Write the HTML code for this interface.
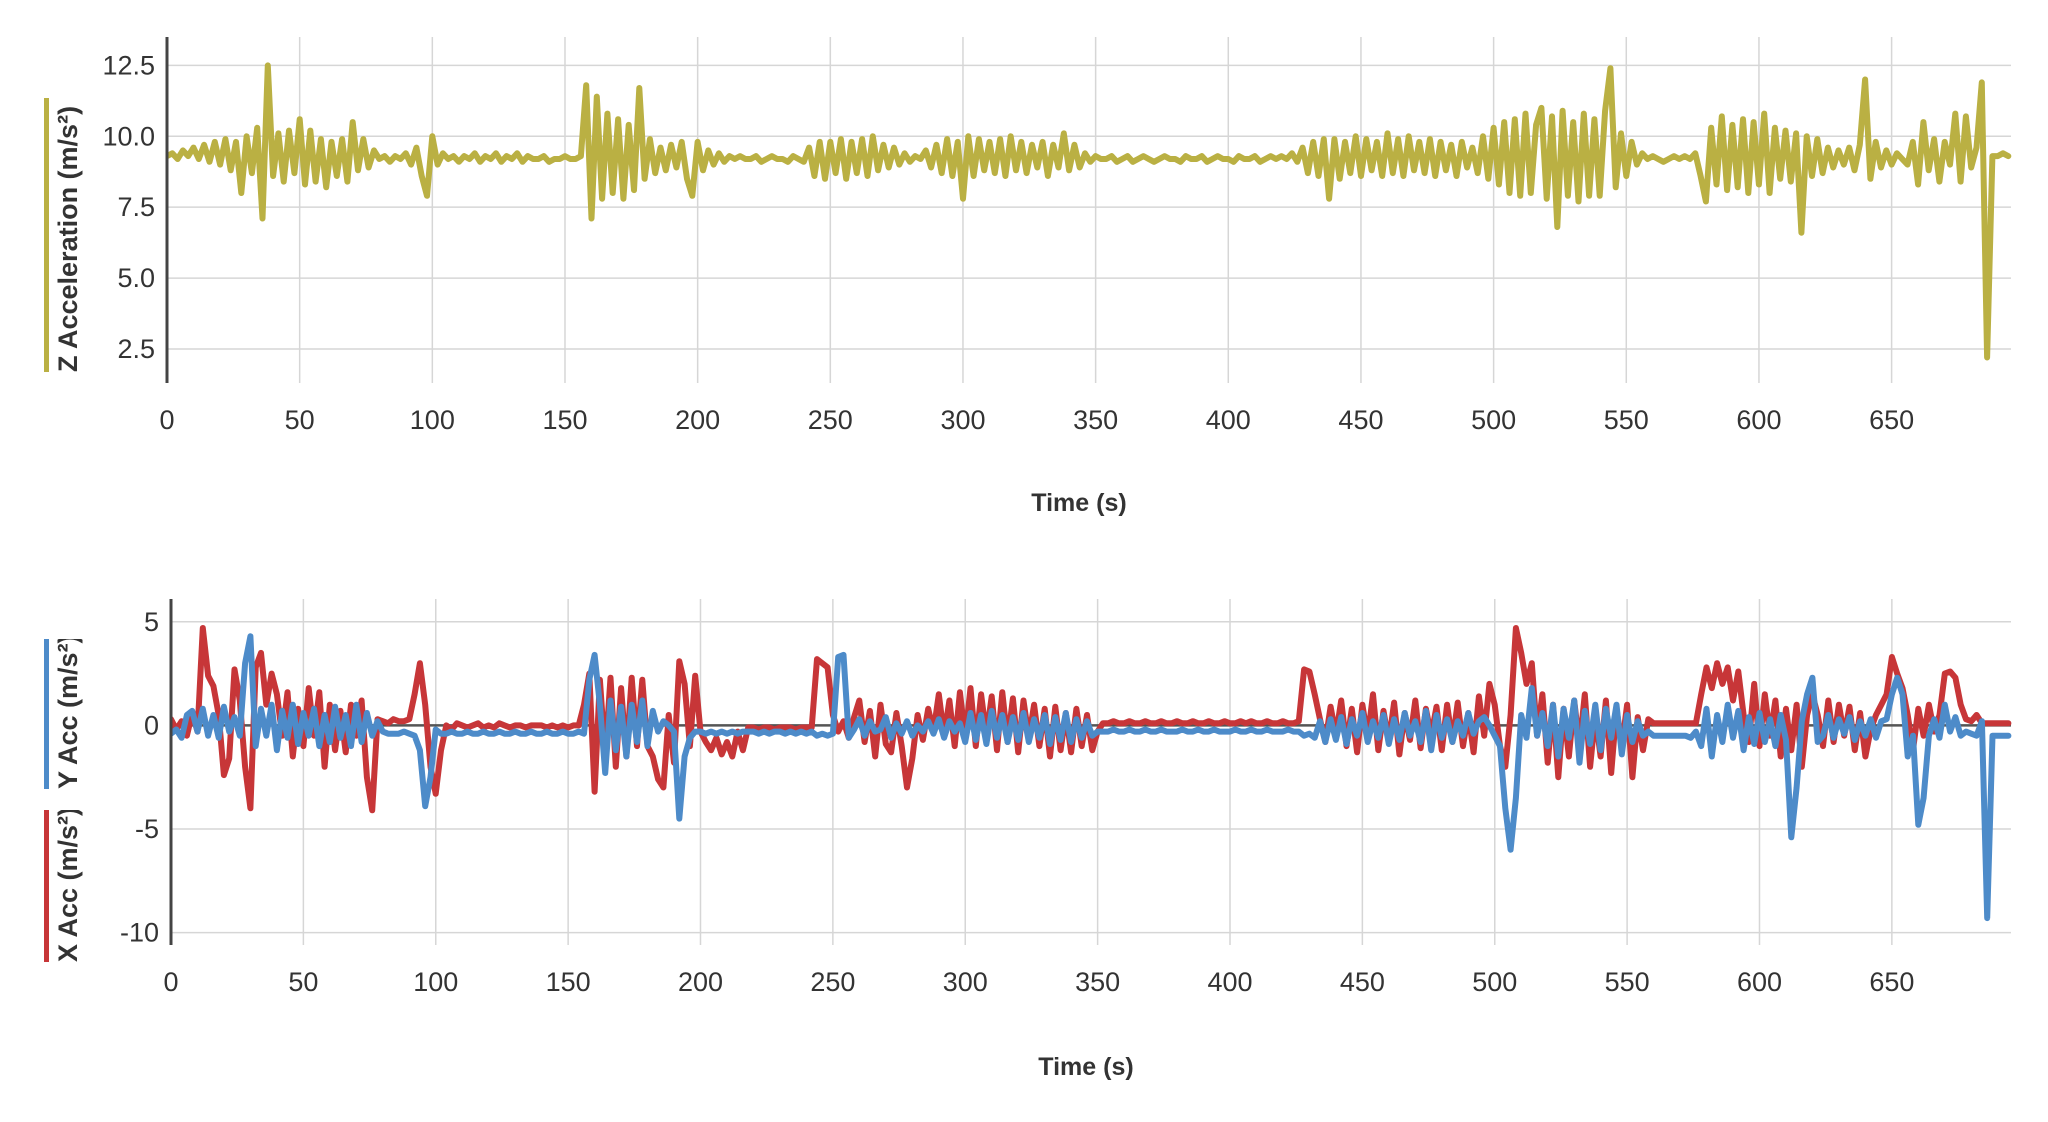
<!DOCTYPE html>
<html><head><meta charset="utf-8"><style>
html,body{margin:0;padding:0;background:#fff;width:2048px;height:1122px;overflow:hidden}
svg{display:block;font-family:"Liberation Sans",sans-serif}
</style></head><body>
<svg id="c" width="2048" height="1122"></svg>
<script>
const xTicks=[0,50,100,150,200,250,300,350,400,450,500,550,600,650];
const zTicks=[2.5,5.0,7.5,10.0,12.5];
const zTickLabels=["2.5","5.0","7.5","10.0","12.5"];
const xyTicks=[-10,-5,0,5];
const xyTickLabels=["-10","-5","0","5"];
const sampleStep=2;
const zAcc=[
9.3,9.4,9.2,9.5,9.3,9.6,9.2,9.7,9.1,9.8,
9.0,9.9,8.8,9.8,8.0,10.0,8.7,10.3,7.1,12.5,
8.6,10.1,8.4,10.2,8.7,10.6,8.3,10.2,8.4,9.9,
8.2,9.8,8.6,9.9,8.4,10.5,8.8,9.9,8.9,9.5,
9.2,9.3,9.1,9.3,9.2,9.4,9.0,9.6,8.6,7.9,
10.0,9.0,9.4,9.2,9.3,9.1,9.3,9.2,9.4,9.1,
9.3,9.2,9.4,9.1,9.3,9.2,9.4,9.1,9.3,9.2,
9.2,9.3,9.1,9.2,9.2,9.3,9.2,9.2,9.3,11.8,
7.1,11.4,7.8,10.8,8.0,10.6,7.8,10.4,8.1,11.7,
8.5,9.9,8.7,9.6,8.8,9.7,8.9,9.8,8.5,7.9,
9.8,8.8,9.5,9.0,9.4,9.1,9.3,9.2,9.3,9.2,
9.2,9.3,9.1,9.2,9.3,9.2,9.2,9.1,9.3,9.2,
9.1,9.6,8.6,9.8,8.5,9.8,8.7,9.9,8.5,9.8,
8.7,9.9,8.6,10.0,8.8,9.7,8.9,9.6,9.0,9.4,
9.1,9.3,9.2,9.5,8.9,9.7,8.7,9.9,8.6,9.8,
7.8,10.0,8.6,9.9,8.8,9.8,8.7,9.9,8.6,10.0,
8.8,9.8,8.7,9.7,8.9,9.8,8.6,9.7,8.9,10.1,
8.8,9.7,8.9,9.4,9.1,9.3,9.2,9.2,9.3,9.1,
9.2,9.3,9.1,9.2,9.3,9.2,9.1,9.2,9.3,9.2,
9.2,9.1,9.3,9.2,9.2,9.3,9.1,9.2,9.3,9.2,
9.2,9.1,9.3,9.2,9.2,9.3,9.1,9.2,9.3,9.2,
9.3,9.2,9.4,9.1,9.6,8.7,9.8,8.6,9.9,7.8,
9.9,8.5,9.8,8.7,10.0,8.6,9.9,8.8,9.8,8.6,
10.1,8.7,9.9,8.6,10.0,8.8,9.8,8.7,9.9,8.6,
9.8,8.8,9.7,8.6,9.8,8.9,9.6,8.7,10.0,8.5,
10.3,8.3,10.5,8.0,10.6,7.9,10.8,8.0,10.4,11.0,
7.8,10.7,6.8,10.9,7.9,10.5,7.7,10.8,7.9,10.6,
7.9,10.9,12.4,8.2,10.1,8.6,9.8,9.0,9.4,9.2,
9.3,9.2,9.1,9.2,9.3,9.2,9.3,9.2,9.4,8.6,
7.7,10.3,8.3,10.7,8.1,10.4,8.2,10.6,8.0,10.5,
8.3,10.8,8.0,10.3,8.5,10.2,8.4,10.1,6.6,10.0,
8.6,9.9,8.7,9.6,8.9,9.5,9.0,9.6,8.8,9.7,
12.0,8.5,9.8,8.9,9.5,9.0,9.4,9.2,9.0,9.8,
8.3,10.5,8.8,9.9,8.4,9.8,9.0,10.8,8.4,10.7,
8.9,9.6,11.9,2.2,9.3,9.3,9.4,9.3];
const xAcc=[
0.3,-0.2,0.2,-0.5,0.6,-0.3,4.7,2.4,1.9,0.5,
-2.4,-1.6,2.7,1.2,-2.0,-4.0,2.8,3.5,1.0,2.5,
1.5,-0.5,1.6,-1.5,0.8,-1.0,1.8,-0.5,1.6,-2.0,
1.0,-1.2,0.7,-1.3,1.0,-0.5,1.2,-2.5,-4.1,0.3,
0.2,0.1,0.3,0.2,0.2,0.3,1.5,3.0,1.0,-2.0,
-3.3,-1.2,0.0,-0.2,0.1,0.0,-0.1,0.0,0.1,-0.1,
0.0,-0.1,0.1,0.0,-0.1,0.0,0.0,-0.1,0.0,0.0,
0.0,-0.1,0.0,-0.1,0.0,-0.1,0.0,0.0,1.0,2.5,
-3.2,2.2,-1.5,2.3,-2.0,1.8,-1.5,2.3,-1.0,2.2,
-1.0,-1.5,-2.6,-3.0,0.5,-1.8,3.1,2.0,-1.0,2.4,
-0.3,-0.8,-1.2,-0.6,-1.4,-0.8,-1.5,-0.3,-1.2,-0.1,
-0.1,-0.2,-0.1,-0.1,-0.2,-0.1,-0.1,-0.1,-0.2,-0.1,
-0.1,-0.1,3.2,3.0,2.8,0.5,-0.3,0.2,-0.6,0.4,
1.2,-0.8,0.7,-1.5,1.0,-0.9,-1.3,0.6,-1.0,-3.0,
-1.6,0.5,-0.7,0.8,-0.3,1.5,-0.5,1.2,-1.0,1.6,
-0.6,1.8,-1.0,1.5,-0.5,1.4,-1.2,1.6,-0.8,1.3,
-1.3,1.2,-0.6,1.0,-1.0,0.8,-1.5,0.9,-1.2,0.6,
-1.3,0.8,-1.0,0.5,-1.2,-0.3,0.1,0.1,0.2,0.1,
0.1,0.2,0.1,0.1,0.2,0.1,0.1,0.2,0.1,0.1,
0.2,0.1,0.1,0.2,0.1,0.1,0.2,0.1,0.1,0.2,
0.1,0.1,0.2,0.1,0.2,0.1,0.1,0.2,0.1,0.1,
0.2,0.1,0.1,0.2,2.7,2.6,1.5,0.3,-0.8,0.9,
-0.5,1.2,-1.0,0.8,-1.3,1.0,-0.6,1.5,-1.2,0.7,
-0.8,1.1,-1.4,0.6,-0.7,1.2,-1.1,0.8,-0.5,0.9,
-1.2,1.0,-0.8,1.1,-1.0,0.6,-1.3,1.4,-0.5,2.0,
1.0,-1.0,-2.0,0.5,4.7,3.5,2.0,3.0,-0.5,1.5,
-1.8,1.0,-2.5,0.8,-1.5,1.2,-1.0,1.5,-2.0,0.5,
-1.5,1.2,-2.3,0.8,-1.0,1.0,-2.5,0.4,-1.2,0.3,
0.1,0.1,0.1,0.1,0.1,0.1,0.1,0.1,0.1,1.5,
2.8,1.8,3.0,2.0,2.8,1.2,2.6,0.5,-0.8,2.0,
-1.0,1.5,-0.5,1.2,-1.5,0.8,-1.2,1.0,-2.0,0.5,
1.5,0.5,-1.0,1.2,-0.8,1.0,-0.5,0.9,-1.2,0.6,
-1.5,-0.2,0.5,1.0,1.5,3.3,2.5,1.8,0.5,-1.2,
0.8,-0.5,1.0,-0.3,0.5,2.5,2.6,2.3,1.0,0.3,
0.2,0.5,0.1,0.1,0.1,0.1,0.1,0.1];
const yAcc=[
-0.4,-0.2,-0.6,0.5,0.7,-0.3,0.8,-0.5,0.5,-0.6,
0.9,-0.3,0.4,-0.5,3.0,4.3,-1.0,0.8,-0.5,1.0,
-1.2,0.7,-0.6,1.0,-0.9,0.6,-0.5,0.8,-1.0,0.5,
-0.8,0.9,-0.6,0.5,-1.0,1.0,-0.8,0.6,-0.5,0.2,
-0.3,-0.4,-0.4,-0.4,-0.3,-0.4,-0.5,-1.2,-3.9,-2.5,
-0.2,-0.4,-0.4,-0.3,-0.4,-0.4,-0.3,-0.4,-0.4,-0.3,
-0.4,-0.4,-0.3,-0.4,-0.4,-0.3,-0.4,-0.4,-0.3,-0.4,
-0.4,-0.3,-0.4,-0.4,-0.3,-0.4,-0.4,-0.3,-0.4,2.2,
3.4,1.0,-2.3,1.2,-1.2,0.9,-1.5,1.0,-0.8,1.2,
-1.0,0.7,-0.3,0.2,0.0,-0.3,-4.5,-1.5,-0.6,-0.3,
-0.3,-0.4,-0.3,-0.4,-0.3,-0.4,-0.3,-0.4,-0.3,-0.3,
-0.3,-0.4,-0.3,-0.4,-0.3,-0.3,-0.4,-0.3,-0.4,-0.3,
-0.4,-0.3,-0.5,-0.4,-0.5,-0.4,3.3,3.4,-0.6,-0.2,
0.3,-0.5,0.2,-0.3,-0.2,0.4,-0.6,0.1,-0.4,0.2,
-0.5,0.0,-0.3,0.2,-0.4,0.3,-0.6,0.2,-0.3,0.1,
-0.8,0.6,-0.7,0.5,-0.9,0.7,-0.6,0.5,-0.8,0.4,
-0.7,0.6,-0.8,0.3,-0.6,0.5,-0.9,0.4,-0.7,0.6,
-0.8,0.3,-0.6,0.2,-0.5,-0.3,-0.3,-0.3,-0.2,-0.3,
-0.3,-0.2,-0.3,-0.3,-0.2,-0.3,-0.3,-0.2,-0.3,-0.3,
-0.3,-0.2,-0.3,-0.3,-0.2,-0.3,-0.3,-0.2,-0.3,-0.3,
-0.3,-0.2,-0.3,-0.3,-0.2,-0.3,-0.3,-0.2,-0.3,-0.3,
-0.3,-0.2,-0.3,-0.3,-0.5,-0.4,-0.6,0.2,-0.8,0.3,
-0.7,0.4,-0.9,0.3,-0.5,0.6,-0.8,0.2,-0.6,0.5,
-0.9,0.3,-0.7,0.6,-0.5,0.2,-0.8,0.7,-1.2,0.5,
-0.6,0.3,-0.8,0.2,-0.5,0.6,-0.4,0.2,0.4,0.0,
-0.5,-1.0,-4.0,-6.0,-3.5,0.5,-0.6,1.8,-0.5,0.6,
-1.0,1.0,-1.5,0.8,-0.6,1.2,-1.8,0.7,-0.9,1.0,
-1.2,0.8,-0.6,1.0,-1.4,0.5,-0.8,0.2,-0.5,-0.3,
-0.5,-0.5,-0.5,-0.5,-0.5,-0.5,-0.5,-0.6,-0.3,-1.0,
0.8,-1.5,0.5,-0.8,1.0,-0.6,0.7,-1.2,0.4,-0.9,
0.6,-0.8,0.3,-1.0,0.5,-0.7,-5.4,-3.0,0.2,1.5,
2.3,-0.8,-0.5,0.5,-0.6,0.3,-0.4,0.4,-0.7,0.2,
-0.5,0.3,-0.6,0.2,0.3,1.5,2.3,1.5,-1.5,-0.5,
-4.8,-3.5,-0.5,0.3,-0.6,1.0,-0.3,0.4,-0.5,-0.3,
-0.4,-0.5,0.2,-9.3,-0.5,-0.5,-0.5,-0.5];

const NS="http://www.w3.org/2000/svg";
const svg=document.getElementById('c');
function mk(tag,attrs,parent){const e=document.createElementNS(NS,tag);for(const k in attrs)e.setAttribute(k,attrs[k]);(parent||svg).appendChild(e);return e;}
const X_MAX=695;
function makePanel(p){
  const g=mk('g',{});
  
  
  const xs=v=>p.left+(v/X_MAX)*(p.right-p.left);
  const ys=v=>p.bottom-(v-p.ymin)/(p.ymax-p.ymin)*(p.bottom-p.top);
  const clipId=p.name+'-clip';
  const defs=mk('defs',{},g);
  const cp=mk('clipPath',{id:clipId},defs);
  mk('rect',{x:p.left,y:p.top-4,width:p.right-p.left+4,height:p.bottom-p.top+8},cp);
  xTicks.forEach(t=>{
    const l=mk('line',{x1:xs(t),x2:xs(t),y1:p.top,y2:p.bottom,stroke:'#d6d6d6','stroke-width':1.5},g);
    
    
    const tx=mk('text',{x:xs(t),y:p.xLabelY,'text-anchor':'middle','font-size':27,fill:'#333'},g);
    tx.textContent=t;
    
    
  });
  p.ticks.forEach((t,i)=>{
    const l=mk('line',{x1:p.left,x2:p.right,y1:ys(t),y2:ys(t),stroke:'#d6d6d6','stroke-width':1.5},g);
    
    
    const tx=mk('text',{x:p.left-12,y:ys(t)+9,'text-anchor':'end','font-size':27,fill:'#333'},g);
    tx.textContent=p.tickLabels[i];
    
    
  });
  if(p.zeroLine){
    const z=mk('line',{x1:p.left,x2:p.right,y1:ys(0),y2:ys(0),stroke:'#555','stroke-width':2.5},g);
    
    
  }
  const sg=mk('g',{'clip-path':'url(#'+clipId+')'},g);
  p.series.forEach(s=>{
    const d=s.data.map((v,i)=>(i?'L':'M')+xs(i*sampleStep).toFixed(1)+','+ys(v).toFixed(1)).join('');
    const path=mk('path',{d:d,fill:'none',stroke:s.color,'stroke-width':6,'stroke-linejoin':'round','stroke-linecap':'round'},sg);
    
    
  });
  const ax=mk('line',{x1:p.left,x2:p.left,y1:p.top,y2:p.bottom,stroke:'#444','stroke-width':3},g);
  
  
  const tt=mk('text',{x:p.titleX,y:p.titleY,'text-anchor':'middle','font-size':25,'font-weight':'bold',fill:'#333'},g);
  tt.textContent='Time (s)';
  
  
  return {xs,ys};
}
makePanel({name:'z-acceleration-chart',left:167,right:2011,top:37,bottom:383,ymin:1.3,ymax:13.5,ticks:zTicks,tickLabels:zTickLabels,xLabelY:429,titleY:511,titleX:1079,
  series:[{name:'z-acceleration-line',data:zAcc,color:'#bab043'}]});
makePanel({name:'xy-acceleration-chart',left:171,right:2011,top:599,bottom:945,ymin:-10.6,ymax:6.1,ticks:xyTicks,tickLabels:xyTickLabels,xLabelY:991,titleY:1075,titleX:1086,zeroLine:true,
  series:[{name:'x-acceleration-line',data:xAcc,color:'#c73638'},{name:'y-acceleration-line',data:yAcc,color:'#4d8bc9'}]});

function yTitle(name,text,color,barX,y1,y2){
  const g=mk('g',{});
  
  
  const b=mk('rect',{x:barX,y:y1,width:5,height:y2-y1,fill:color},g);
  
  
  const id=name+'-tclip';
  const cp=mk('clipPath',{id:id},mk('defs',{},g));
  mk('rect',{x:barX+8,y:y1,width:40,height:y2-y1},cp);
  const t=mk('text',{x:0,y:0,'font-size':27,'font-weight':'bold',fill:'#333',transform:'translate('+(barX+33)+','+y2+') rotate(-90)'},mk('g',{'clip-path':'url(#'+id+')'},g));
  t.textContent=text;
  
  
}
yTitle('z-axis-title','Z Acceleration (m/s²)','#bab043',44,98,372);
yTitle('y-axis-title-y','Y Acc (m/s²)','#4d8bc9',44,639,789);
yTitle('y-axis-title-x','X Acc (m/s²)','#c73638',44,810,962);
</script>
</body></html>
